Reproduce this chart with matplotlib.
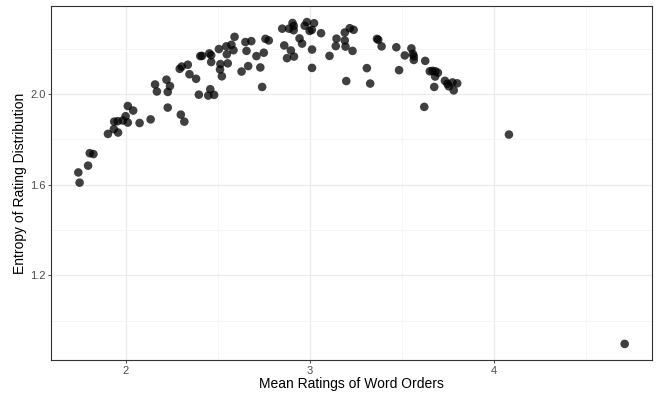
import matplotlib
matplotlib.use("Agg")
import matplotlib.pyplot as plt
import numpy as np

mean_rating = [
    1.743, 1.750, 1.796, 1.805, 1.825, 1.904, 1.936, 1.959, 1.938, 1.957,
    1.985, 2.000, 2.012, 2.041, 2.012, 2.076, 2.136, 2.160, 2.170, 2.222,
    2.241, 2.229, 2.229, 2.300, 2.319, 2.294, 2.305, 2.338, 2.347, 2.383,
    2.398, 2.449, 2.460, 2.481, 2.406, 2.415, 2.455, 2.465, 2.465, 2.507,
    2.515, 2.513, 2.523, 2.547, 2.550, 2.555, 2.575, 2.586, 2.592, 2.630,
    2.651, 2.657, 2.666, 2.683, 2.711, 2.732, 2.742, 2.751, 2.760, 2.778,
    2.851, 2.862, 2.877, 2.888, 2.898, 2.907, 2.914, 2.913, 2.915, 2.945,
    2.959, 2.973, 2.985, 3.000, 3.012, 3.024, 3.013, 3.013, 3.062, 3.108,
    3.146, 3.142, 3.191, 3.191, 3.195, 3.218, 3.239, 3.233, 3.199, 3.311,
    3.329, 3.366, 3.373, 3.391, 3.471, 3.486, 3.517, 3.553, 3.561, 3.566,
    3.566, 3.628, 3.623, 3.653, 3.668, 3.683, 3.697, 3.682, 3.677, 3.735,
    3.749, 3.756, 3.776, 3.783, 3.802, 4.083, 4.712,
]
entropy = [
    1.654, 1.609, 1.684, 1.739, 1.735, 1.824, 1.845, 1.830, 1.878, 1.880,
    1.883, 1.902, 1.947, 1.927, 1.874, 1.872, 1.888, 2.042, 2.011, 2.063,
    2.035, 2.009, 1.940, 1.909, 1.878, 2.111, 2.121, 2.129, 2.087, 2.067,
    1.997, 1.993, 2.021, 1.996, 2.167, 2.168, 2.179, 2.171, 2.141, 2.198,
    2.132, 2.108, 2.078, 2.210, 2.175, 2.135, 2.217, 2.193, 2.252, 2.099,
    2.229, 2.190, 2.123, 2.233, 2.167, 2.117, 2.031, 2.182, 2.243, 2.236,
    2.288, 2.214, 2.158, 2.288, 2.192, 2.313, 2.300, 2.281, 2.165, 2.245,
    2.222, 2.301, 2.317, 2.278, 2.283, 2.312, 2.196, 2.115, 2.268, 2.168,
    2.244, 2.211, 2.271, 2.236, 2.209, 2.290, 2.283, 2.190, 2.057, 2.114,
    2.046, 2.243, 2.239, 2.210, 2.206, 2.105, 2.170, 2.201, 2.177, 2.166,
    2.150, 2.146, 1.943, 2.100, 2.102, 2.100, 2.094, 2.077, 2.031, 2.058,
    2.045, 2.034, 2.051, 2.016, 2.047, 1.821, 0.898,
]

x_ticks = [2, 3, 4]
y_ticks = [1.2, 1.6, 2.0]
x_label = "Mean Ratings of Word Orders"
y_label = "Entropy of Rating Distribution"

plt.rcParams['font.family'] = ['Liberation Sans', 'DejaVu Sans']

fig = plt.figure(figsize=(6.59, 3.95), dpi=100)
ax = fig.add_axes([51/659, 1 - 360/395, (652 - 51)/659, (360 - 6)/395])

x = np.array(mean_rating)
y = np.array(entropy)
xr = x.max() - x.min()
yr = y.max() - y.min()
ax.set_xlim(x.min() - 0.05 * xr, x.max() + 0.05 * xr)
ax.set_ylim(y.min() - 0.05 * yr, y.max() + 0.05 * yr)

ax.set_xticks(x_ticks)
ax.set_xticklabels([str(v) for v in x_ticks])
ax.set_yticks(y_ticks)
ax.set_yticklabels([f"{v:.1f}" for v in y_ticks])
ax.set_xticks([2.5, 3.5, 4.5], minor=True)
ax.set_yticks([1.0, 1.4, 1.8, 2.2], minor=True)

ax.grid(True, which='major', color='#ebebeb', linewidth=0.9)
ax.grid(True, which='minor', color='#f3f3f3', linewidth=0.5)
ax.set_axisbelow(True)

ax.scatter(x, y, s=38, color='black', alpha=0.75, edgecolors='none', zorder=3)

for sp in ax.spines.values():
    sp.set_color('#333333')
    sp.set_linewidth(0.8)

ax.tick_params(axis='both', which='major', length=2.5, width=0.6, color='#333333',
               labelsize=8, labelcolor='#4d4d4d', pad=1.5)
ax.tick_params(axis='both', which='minor', length=0)

ax.set_xlabel(x_label, fontsize=10, color='black', labelpad=1)
ax.set_ylabel(y_label, fontsize=10, color='black', labelpad=2)

fig.savefig("out.png", dpi=100)
